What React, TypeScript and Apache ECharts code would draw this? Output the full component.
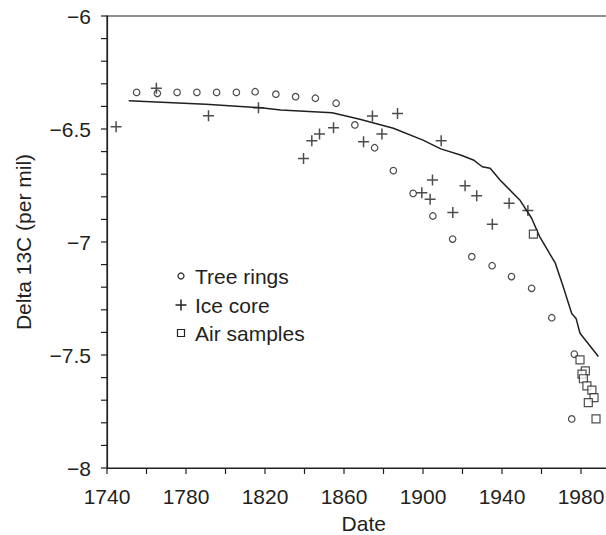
import React, { useEffect, useRef } from "react";
import * as echarts from "echarts";

const treeRingYears = [1755, 1765.5, 1775.5, 1785.5, 1795.5, 1805.5, 1815, 1825.5, 1835.5, 1845.5, 1856, 1865.5, 1875.5, 1885, 1895, 1905, 1915, 1924.7, 1935, 1944.8, 1955, 1965.2, 1976.6, 1975.3];
const treeRingValues = [-6.338, -6.342, -6.338, -6.338, -6.338, -6.338, -6.335, -6.346, -6.357, -6.364, -6.386, -6.482, -6.583, -6.684, -6.785, -6.885, -6.987, -7.065, -7.105, -7.153, -7.205, -7.335, -7.496, -7.783];

const iceCoreYears = [1744.6, 1765, 1791.4, 1816.7, 1839.5, 1843.7, 1847.6, 1854.7, 1869.9, 1874.4, 1879.2, 1887.1, 1899.4, 1903.6, 1904.8, 1909.2, 1915.1, 1921.3, 1927.2, 1935.1, 1943.6, 1953.1];
const iceCoreValues = [-6.49, -6.32, -6.441, -6.406, -6.63, -6.552, -6.522, -6.494, -6.556, -6.442, -6.522, -6.431, -6.782, -6.811, -6.726, -6.552, -6.869, -6.751, -6.795, -6.922, -6.829, -6.861];

const airYears = [1955.9, 1979.5, 1982.2, 1980.5, 1981.2, 1983, 1985.5, 1986.6, 1983.7, 1987.6];
const airValues = [-6.965, -7.522, -7.57, -7.585, -7.605, -7.637, -7.655, -7.689, -7.711, -7.783];

const curveYears = [1751, 1790, 1818, 1828, 1854, 1868, 1885, 1900, 1909, 1919, 1925.5, 1930, 1934, 1939, 1949, 1955, 1959, 1967, 1971, 1975.3, 1977.5, 1979.5, 1988.8];
const curveValues = [-6.375, -6.39, -6.406, -6.416, -6.428, -6.457, -6.497, -6.549, -6.588, -6.615, -6.637, -6.667, -6.674, -6.726, -6.814, -6.895, -6.975, -7.094, -7.198, -7.316, -7.338, -7.404, -7.507];

// tick marks (labels every 40 years / every 0.5)
const xTickYears = [1740, 1760, 1780, 1800, 1820, 1840, 1860, 1880, 1900, 1920, 1940, 1960, 1980, 2000];
const yTickValues = [-8, -7.9, -7.8, -7.7, -7.6, -7.5, -7.4, -7.3, -7.2, -7.1, -7, -6.9, -6.8, -6.7, -6.6, -6.5, -6.4, -6.3, -6.2, -6.1, -6];

const legendNames = ["Tree rings", "Ice core", "Air samples"];

const X_MIN = 1740;
const X_MAX = 2000;
const Y_MIN = -8;
const Y_MAX = -6;

const INK = "#231f20";
const FONT = '"Liberation Sans", Arial, Helvetica, sans-serif';
const FS = 21;
const TICK = 6;

const zip = (xs: number[], ys: number[]) => xs.map((x, i) => [x, ys[i]]);

export default function App() {
  const ref = useRef<HTMLDivElement>(null);
  useEffect(() => {
    if (!ref.current) return;
    const chart = echarts.init(ref.current, null, { renderer: "svg" });
    const legendX = 181;
    const legendY = [276, 305, 333];
    chart.setOption({
      animation: false,
      backgroundColor: "#fff",
      textStyle: { fontFamily: FONT },
      grid: {
        left: 107,
        top: 16,
        width: 513.5,
        height: 452,
        outerBoundsMode: "none",
        containLabel: false,
        show: true,
        borderColor: INK,
        borderWidth: 1.2,
        backgroundColor: "transparent",
      },
      xAxis: {
        type: "value",
        min: X_MIN,
        max: X_MAX,
        interval: 40,
        name: "Date",
        nameLocation: "middle",
        nameGap: 45,
        nameTextStyle: { fontSize: FS, color: INK, fontFamily: FONT },
        axisLine: { show: true, onZero: false, lineStyle: { color: INK, width: 1.2 } },
        axisTick: { show: false },
        axisLabel: {
          fontSize: FS,
          color: INK,
          fontFamily: FONT,
          margin: 18,
          formatter: (v: number) => (v <= 1980 ? String(v) : ""),
        },
        splitLine: { show: false },
      },
      yAxis: {
        type: "value",
        min: Y_MIN,
        max: Y_MAX,
        interval: 0.5,
        name: "Delta 13C (per mil)",
        nameLocation: "middle",
        nameGap: 73,
        nameTextStyle: { fontSize: FS, color: INK, fontFamily: FONT },
        axisLine: { show: true, onZero: false, lineStyle: { color: INK, width: 1.2 } },
        axisTick: { show: false },
        axisLabel: {
          fontSize: FS,
          color: INK,
          fontFamily: FONT,
          margin: 16,
          formatter: (v: number) => String(v).replace("-", "\u2212"),
        },
        splitLine: { show: false },
      },
      series: [
        {
          name: "xTicks",
          type: "custom",
          silent: true,
          clip: false,
          data: xTickYears.map((v) => [v, Y_MIN]),
          renderItem: (params: any, api: any) => {
            const p = api.coord([api.value(0), api.value(1)]);
            return {
              type: "line",
              shape: { x1: p[0], y1: p[1], x2: p[0], y2: p[1] + TICK },
              style: { stroke: INK, lineWidth: 1.2 },
            };
          },
          z: 1,
        },
        {
          name: "yTicks",
          type: "custom",
          silent: true,
          clip: false,
          data: yTickValues.map((v) => [X_MIN, v]),
          renderItem: (params: any, api: any) => {
            const p = api.coord([api.value(0), api.value(1)]);
            return {
              type: "line",
              shape: { x1: p[0] - TICK, y1: p[1], x2: p[0], y2: p[1] },
              style: { stroke: INK, lineWidth: 1.2 },
            };
          },
          z: 1,
        },
        {
          name: "Model",
          type: "line",
          data: zip(curveYears, curveValues),
          symbol: "none",
          lineStyle: { color: INK, width: 1.5 },
          silent: true,
          z: 2,
        },
        {
          name: legendNames[0],
          type: "scatter",
          data: zip(treeRingYears, treeRingValues),
          symbol: "circle",
          symbolSize: 6.5,
          itemStyle: { color: "transparent", borderColor: INK, borderWidth: 1.2 },
          z: 3,
        },
        {
          name: legendNames[1],
          type: "scatter",
          data: zip(iceCoreYears, iceCoreValues),
          symbol: "path://M0,5L10,5M5,0L5,10",
          symbolSize: 11,
          itemStyle: { color: "transparent", borderColor: INK, borderWidth: 1.5 },
          z: 3,
        },
        {
          name: legendNames[2],
          type: "scatter",
          data: zip(airYears, airValues),
          symbol: "rect",
          symbolSize: 8,
          itemStyle: { color: "#fff", borderColor: INK, borderWidth: 1.2 },
          z: 4,
        },
      ],
      graphic: [
        {
          type: "circle",
          shape: { cx: legendX, cy: legendY[0], r: 3 },
          style: { fill: "none", stroke: INK, lineWidth: 1.2 },
        },
        {
          type: "line",
          shape: { x1: legendX - 5.5, y1: legendY[1], x2: legendX + 5.5, y2: legendY[1] },
          style: { stroke: INK, lineWidth: 1.5 },
        },
        {
          type: "line",
          shape: { x1: legendX, y1: legendY[1] - 5.5, x2: legendX, y2: legendY[1] + 5.5 },
          style: { stroke: INK, lineWidth: 1.5 },
        },
        {
          type: "rect",
          shape: { x: legendX - 3.5, y: legendY[2] - 3.5, width: 7, height: 7 },
          style: { fill: "none", stroke: INK, lineWidth: 1.2 },
        },
        ...legendNames.map((name, i) => ({
          type: "text",
          style: {
            text: name,
            x: 195,
            y: legendY[i],
            fill: INK,
            font: `${FS}px ${FONT}`,
            verticalAlign: "middle",
            textVerticalAlign: "middle",
          },
        })),
      ],
    });
    return () => chart.dispose();
  }, []);
  return (
    <div
      ref={ref}
      style={{ position: "absolute", left: 0, top: 0, width: 606, height: 535, overflow: "hidden" }}
    />
  );
}
